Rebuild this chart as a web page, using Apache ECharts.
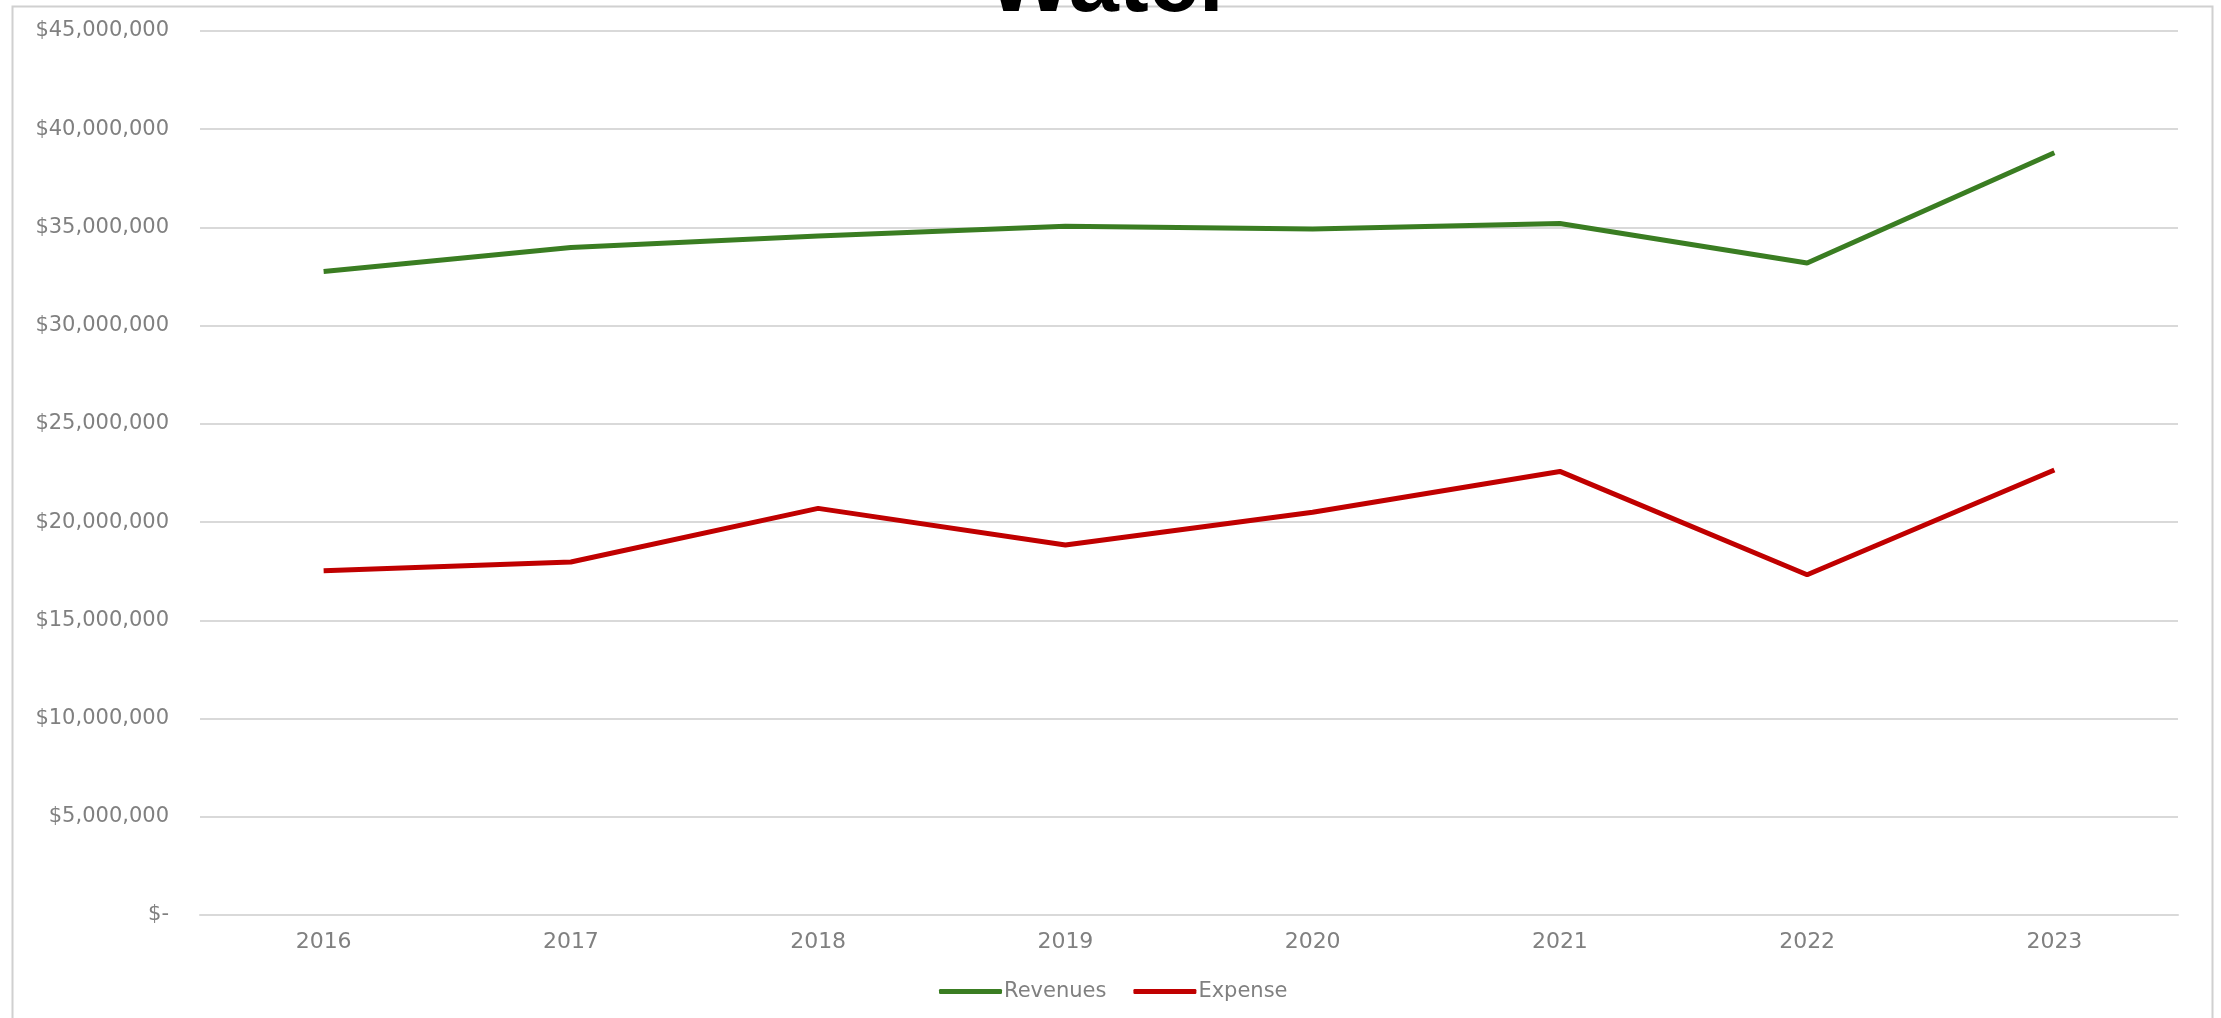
<!DOCTYPE html>
<html>
<head>
<meta charset="utf-8">
<script src="https://cdn.jsdelivr.net/npm/echarts@6/dist/echarts.min.js"></script>
<style>
  html, body { margin: 0; padding: 0; background: #ffffff; }
  #chart { width: 2221px; height: 1018px; }
</style>
</head>
<body>
<div id="chart"></div>
<script>
const titleText = 'Water';
const categories = ['2016', '2017', '2018', '2019', '2020', '2021', '2022', '2023'];
const revenues = [32760000, 33980000, 34560000, 35060000, 34920000, 35200000, 33190000, 38800000];
const expense = [17530000, 17970000, 20700000, 18830000, 20500000, 22580000, 17320000, 22650000];
const seriesNames = ['Revenues', 'Expense'];

function fmtMoney(v) {
  if (v === 0) return '$-';
  return '$' + v.toString().replace(/\B(?=(\d{3})+(?!\d))/g, ',');
}

const chart = echarts.init(document.getElementById('chart'));
chart.setOption({
  animation: false,
  backgroundColor: '#ffffff',
  title: {
    text: titleText,
    left: 'center',
    top: -64,
    textStyle: { fontFamily: 'Liberation Sans', fontWeight: 'bold', fontSize: 90, color: '#000000' }
  },
  graphic: [{
    type: 'rect',
    left: 10, top: 4,
    z: -1,
    shape: { width: 2200, height: 1030 },
    style: { fill: 'none', stroke: '#d0d0d0', lineWidth: 2 },
    silent: true
  }],
  legend: {
    data: seriesNames,
    left: 934,
    top: 976,
    icon: 'roundRect',
    itemWidth: 63,
    itemHeight: 5,
    itemGap: 27,
    textStyle: { fontFamily: 'DejaVu Sans', fontSize: 21, color: '#808080', padding: [0, 0, 0, -3] }
  },
  grid: { left: 200, right: 43, top: 31, bottom: 103, containLabel: false },
  xAxis: {
    type: 'category',
    data: categories,
    boundaryGap: true,
    axisLine: { show: true, lineStyle: { color: '#d9d9d9', width: 2 } },
    axisTick: { show: false },
    axisLabel: { margin: 16, fontFamily: 'DejaVu Sans', fontSize: 22, color: '#808080' }
  },
  yAxis: {
    type: 'value',
    min: 0,
    max: 45000000,
    interval: 5000000,
    axisLine: { show: false },
    axisTick: { show: false },
    splitLine: { lineStyle: { color: '#d9d9d9', width: 2 } },
    axisLabel: { margin: 31, fontFamily: 'DejaVu Sans', fontSize: 21, color: '#808080', formatter: fmtMoney }
  },
  series: [
    {
      name: seriesNames[0], type: 'line', data: revenues,
      symbol: 'none', lineStyle: { color: '#3a7d22', width: 5 }, itemStyle: { color: '#3a7d22' }
    },
    {
      name: seriesNames[1], type: 'line', data: expense,
      symbol: 'none', lineStyle: { color: '#c00000', width: 5 }, itemStyle: { color: '#c00000' }
    }
  ]
});
</script>
</body>
</html>
